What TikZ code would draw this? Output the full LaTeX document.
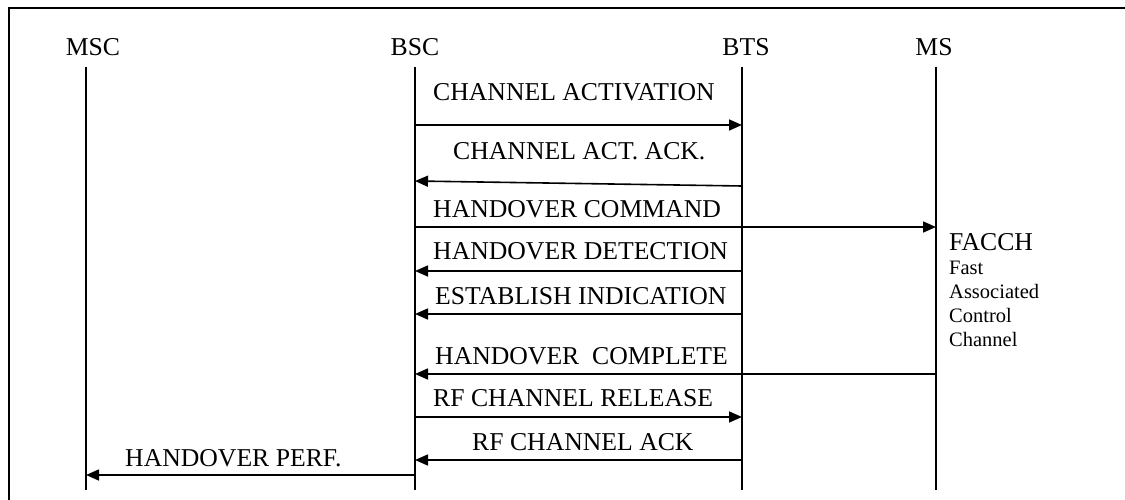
\documentclass[tikz,border=0pt]{standalone}
\usepackage{fontspec}
\setmainfont{Liberation Serif}
\usetikzlibrary{arrows.meta}
\begin{document}
\begin{tikzpicture}[x=1pt,y=-1pt,
  lbl/.style={inner sep=0pt,anchor=base west,font=\fontsize{25.7}{30}\selectfont},
  hdr/.style={inner sep=0pt,anchor=base,font=\fontsize{25.7}{30}\selectfont},
  small/.style={inner sep=0pt,anchor=base west,font=\fontsize{20.5}{24}\selectfont},
  life/.style={line width=1.6pt},
  msg/.style={line width=1.6pt,-{Triangle[length=13pt,width=11pt]}},
  frame/.style={line width=2pt}]
\useasboundingbox (0,0) rectangle (1125,500);
% frame (cut at right and bottom)
\coordinate (fbl) at (9,500);
\coordinate (ftl) at (9,8);
\coordinate (ftr) at (1125,8);
\draw[frame] (fbl) -- (ftl) -- (ftr);
% headers
\node[hdr] (hmsc) at (93,56) {MSC};
\node[hdr] (hbsc) at (415,56) {BSC};
\node[hdr] (hbts) at (746,56) {BTS};
\node[hdr] (hms) at (934,56) {MS};
% lifelines
\coordinate (msc) at (86,67);
\coordinate (bsc) at (415,67);
\coordinate (bts) at (742,67);
\coordinate (ms) at (936,67);
\draw[life] (msc) -- (msc |- 0,490);
\draw[life] (bsc) -- (bsc |- 0,490);
\draw[life] (bts) -- (bts |- 0,490);
\draw[life] (ms) -- (ms |- 0,490);
% messages
\node[lbl] (l1) at (433,101) {CHANNEL ACTIVATION};
\draw[msg] (bsc |- 0,125) -- (bts |- 0,125);
\node[lbl] (l2) at (453,160) {CHANNEL ACT. ACK.};
\draw[msg] (bts |- 0,186) -- (bsc |- 0,181);
\node[lbl] (l3) at (433,217) {HANDOVER COMMAND};
\draw[msg] (bsc |- 0,227) -- (ms |- 0,227);
\node[lbl] (l4) at (433,259) {HANDOVER DETECTION};
\draw[msg] (bts |- 0,271) -- (bsc |- 0,271);
\node[lbl] (l5) at (435,304) {ESTABLISH INDICATION};
\draw[msg] (bts |- 0,314) -- (bsc |- 0,314);
\node[lbl] (l6) at (435,364) {HANDOVER\ \ COMPLETE};
\draw[msg] (ms |- 0,374) -- (bsc |- 0,374);
\node[lbl] (l7) at (433,406) {RF CHANNEL RELEASE};
\draw[msg] (bsc |- 0,417) -- (bts |- 0,417);
\node[lbl] (l8) at (472,450) {RF CHANNEL ACK};
\draw[msg] (bts |- 0,460) -- (bsc |- 0,460);
\node[lbl] (l9) at (125,466) {HANDOVER PERF.};
\draw[msg] (bsc |- 0,475) -- (msc |- 0,475);
% FACCH note
\node[lbl] (facch) at (949,250) {FACCH};
\node[small] (n1) at (949,274) {Fast};
\node[small] (n2) at (949,298) {Associated};
\node[small] (n3) at (949,322) {Control};
\node[small] (n4) at (949,346) {Channel};
\end{tikzpicture}
\end{document}
